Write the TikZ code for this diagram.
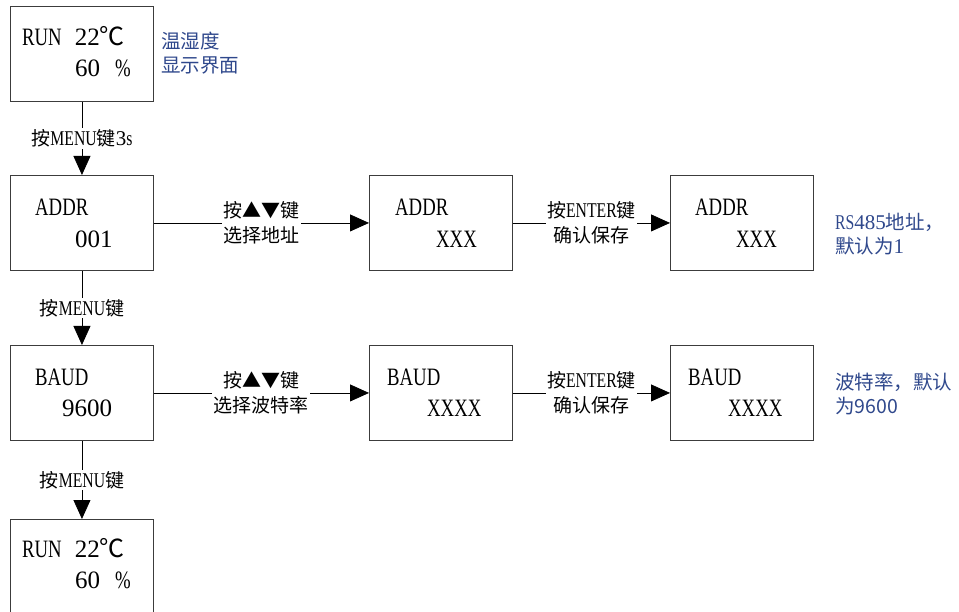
\documentclass[tikz,border=0pt]{standalone}
\usepackage{fontspec}
\setmainfont{Noto Sans CJK SC}
\newfontfamily\lcd[FakeStretch=0.75]{Liberation Serif}
\newfontfamily\lcdnum{Liberation Serif}
\usetikzlibrary{arrows.meta, positioning}
\definecolor{noteblue}{RGB}{47,72,140}
\definecolor{boxgray}{RGB}{60,60,60}
\newcommand\lat[1]{{\fontsize{21}{25}\lcd #1}}
\newcommand\latnum[1]{{\fontsize{21}{25}\lcdnum #1}}

\begin{document}
\begin{tikzpicture}[x=1pt, y=-1pt, >={Triangle[length=19pt,width=17pt]},
  screen/.style={draw=boxgray, line width=0.9pt, minimum width=143pt,
    minimum height=95pt, inner sep=0pt, anchor=north west},
  lcdtext/.style={anchor=base west, inner sep=0pt, font=\fontsize{25}{25}\lcd},
  keylabel/.style={fill=white, inner sep=1.5pt, align=center,
    font=\fontsize{19}{25}\selectfont},
  note/.style={anchor=west, align=left, inner sep=0pt, text=noteblue,
    font=\fontsize{19.5}{24}\selectfont},
  link/.style={->, line width=0.8pt}]
  \clip (0,0) rectangle (959,612);

  % Screens, left column
  \node[screen] (runA) at (10,6) {};
  \node[screen] (addrA) at (10,175) {};
  \node[screen] (baudA) at (10,345) {};
  \node[screen, minimum height=110pt] (runB) at (10,519) {};

  % Screens, middle and right columns
  \node[screen] (addrB) at (369,175) {};
  \node[screen] (addrC) at (670,175) {};
  \node[screen] (baudB) at (369,345) {};
  \node[screen] (baudC) at (670,345) {};

  % Display texts
  \foreach \name/\y in {runA/46, runB/557} {
    \node[lcdtext] (\name-top) at (22,\y)
      {RUN\hspace{13pt}{\lcdnum 22}{\fontsize{25}{25}\rmfamily ℃}};
    \node[lcdtext] (\name-bot) at (75,\y+31) {{\lcdnum 60}\hspace{15pt}\%};
  }
  \node[lcdtext] (addrA-top) at (35,216) {ADDR};
  \node[lcdtext] (addrA-bot) at (75,248) {\lcdnum 001};
  \node[lcdtext] (baudA-top) at (35,385) {BAUD};
  \node[lcdtext] (baudA-bot) at (62,417) {\lcdnum 9600};
  \foreach \name/\x in {addrB/395, addrC/695} {
    \node[lcdtext] (\name-top) at (\x,216) {ADDR};
    \node[lcdtext] (\name-bot) at (\x+41,248) {XXX};
  }
  \foreach \name/\x in {baudB/387, baudC/688} {
    \node[lcdtext] (\name-top) at (\x,385) {BAUD};
    \node[lcdtext] (\name-bot) at (\x+40,417) {XXXX};
  }

  % Key presses
  \draw[link] (runA.south) -- node[keylabel] {按\lat{MENU}键\latnum{3}\lat{s}} (addrA.north);
  \draw[link] (addrA.south) -- node[keylabel] {按\lat{MENU}键} (baudA.north);
  \draw[link] (baudA.south) -- node[keylabel] {按\lat{MENU}键} (runB.north);
  \draw[link] (addrA.east) -- node[keylabel] {按▲▼键\\选择地址} (addrB.west);
  \draw[link] (addrB.east) -- node[keylabel] {按\lat{ENTER}键\\确认保存} (addrC.west);
  \draw[link] (baudA.east) -- node[keylabel] {按▲▼键\\选择波特率} (baudB.west);
  \draw[link] (baudB.east) -- node[keylabel] {按\lat{ENTER}键\\确认保存} (baudC.west);

  % Notes
  \node[note] (runNote) at (161,53) {温湿度\\显示界面};
  \node[note] (addrNote) at (835,234)
    {\lat{RS}\latnum{485}地址，\\默认为\latnum{1}};
  \node[note] (baudNote) at (835,394) {波特率，默认\\为9600};
\end{tikzpicture}
\end{document}
